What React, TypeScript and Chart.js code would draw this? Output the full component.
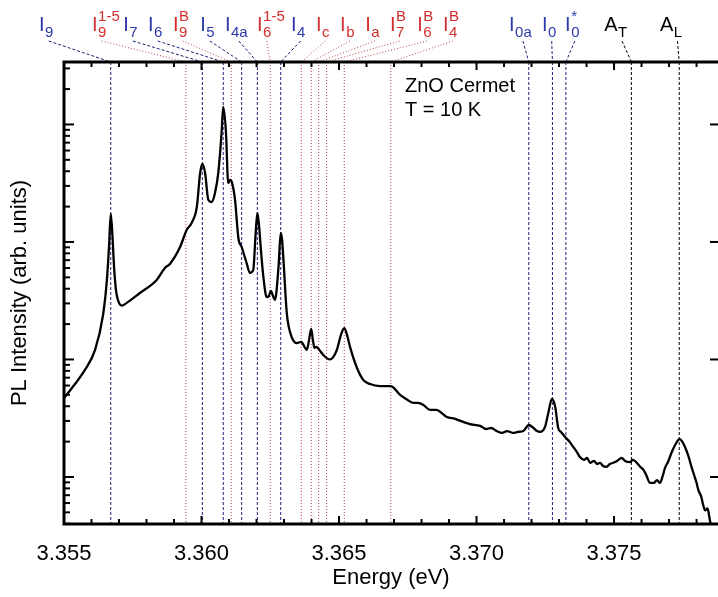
import React, { useEffect, useRef } from 'react';
import { Chart, registerables } from 'chart.js';

Chart.register(...registerables);

const FONT = "'Liberation Sans', Arial, Helvetica, sans-serif";

// Spectrum (photon energy in eV, PL intensity in arbitrary units)
const energy = [
  3.35500, 3.35540, 3.35576, 3.35613, 3.35642, 3.35656, 3.35664, 3.35670, 3.35676, 3.35682,
  3.35689, 3.35696, 3.35710, 3.35728, 3.35776, 3.35837, 3.35867, 3.35885, 3.35922, 3.35946,
  3.35964, 3.35983, 3.35995, 3.36003, 3.36013, 3.36025, 3.36037, 3.36049, 3.36061, 3.36073,
  3.36079, 3.36089, 3.36097, 3.36104, 3.36110, 3.36122, 3.36134, 3.36146, 3.36164, 3.36176,
  3.36188, 3.36197, 3.36203, 3.36209, 3.36216, 3.36225, 3.36237, 3.36245, 3.36252, 3.36260,
  3.36267, 3.36280, 3.36288, 3.36293, 3.36298, 3.36310, 3.36322, 3.36346, 3.36363, 3.36373,
  3.36383, 3.36391, 3.36399, 3.36405, 3.36411, 3.36418, 3.36426, 3.36443, 3.36467, 3.36492,
  3.36507, 3.36519, 3.36529, 3.36540, 3.36564, 3.36588, 3.36613, 3.36649, 3.36685, 3.36696,
  3.36722, 3.36744, 3.36770, 3.36787, 3.36807, 3.36831, 3.36853, 3.36892, 3.36922, 3.36952,
  3.36976, 3.37013, 3.37035, 3.37053, 3.37073, 3.37093, 3.37111, 3.37134, 3.37151, 3.37170,
  3.37190, 3.37207, 3.37220, 3.37231, 3.37249, 3.37261, 3.37274, 3.37286, 3.37297, 3.37307,
  3.37322, 3.37336, 3.37352, 3.37365, 3.37376, 3.37391, 3.37402, 3.37413, 3.37427, 3.37438,
  3.37449, 3.37460, 3.37473, 3.37485, 3.37497, 3.37511, 3.37528, 3.37540, 3.37558, 3.37569,
  3.37583, 3.37595, 3.37607, 3.37617, 3.37631, 3.37645, 3.37656, 3.37667, 3.37678, 3.37685,
  3.37696, 3.37710, 3.37722, 3.37738, 3.37747, 3.37758, 3.37769, 3.37783, 3.37791, 3.37799,
  3.37807, 3.37817, 3.37824, 3.37831, 3.37840, 3.37847, 3.37853, 3.37864,
];

const intensity = [
  47.0, 61.8, 81.5, 120.5, 239, 475, 942, 1730, 1148, 612,
  390, 321, 287, 303, 368, 475, 601, 650, 906, 1265,
  1452, 1986, 3864, 4613, 3864, 2275, 2188, 2612, 3864, 8472,
  14090, 8472, 3177, 3373, 3243, 2275, 1081, 906, 662, 545,
  578, 1194, 1766, 1396, 855, 503, 340, 347, 383, 347,
  321, 612, 1194, 1040, 703, 249, 171, 138, 141, 130,
  120.5, 146.6, 182, 146.6, 125.4, 128, 122.8, 109, 100, 120.5,
  162, 185, 162, 128, 86.3, 67, 61.8, 59.4, 59.4, 58.2,
  49.9, 46.1, 42.7, 42.7, 41.0, 37.2, 37.2, 32.4, 31.2, 29.4,
  28.2, 27.2, 25.6, 26.1, 24.6, 23.7, 24.6, 23.7, 24.2, 24.6,
  27.7, 26.1, 24.6, 24.2, 26.7, 35.1, 46.1, 39.5, 26.1, 24.2,
  21.9, 20.2, 18.0, 16.3, 14.8, 14.0, 14.5, 13.2, 13.7, 12.9,
  13.2, 12.4, 12.2, 12.9, 13.2, 13.7, 14.5, 13.7, 13.4, 14.0,
  13.2, 12.2, 11.5, 10.4, 8.9, 8.9, 9.4, 8.9, 10.4, 11.9,
  13.4, 16.3, 18.7, 21.0, 20.2, 18.0, 15.4, 11.9, 10.4, 9.1,
  7.7, 6.8, 5.8, 5.2, 5.4, 4.5, 3.8, 3.5,
];

// Axis
const xTickValues = [3.355, 3.36, 3.365, 3.37, 3.375];
const xMin = 3.355;
const xMax = 3.37878;
const yMin = 3.98;
const yMax = 34000;

// Line assignments (energy of each marked transition)
const markerEnergy = [
  3.35670, 3.35943, 3.36003, 3.36079, 3.36108, 3.36146, 3.36203, 3.36250, 3.36288, 3.36363,
  3.36399, 3.36426, 3.36455, 3.36519, 3.36688, 3.37190, 3.37276, 3.37325, 3.37563, 3.37737,
];
const markerLetter = ['I', 'I', 'I', 'I', 'I', 'I', 'I', 'I', 'I', 'I', 'I', 'I', 'I', 'I', 'I', 'I', 'I', 'I', 'A', 'A'];
const markerSub = ['9', '9', '7', '6', '9', '5', '4a', '6', '4', 'c', 'b', 'a', '7', '6', '4', '0a', '0', '0', 'T', 'L'];
const markerSup = ['', '1-5', '', '', 'B', '', '', '1-5', '', '', '', '', 'B', 'B', 'B', '', '', '*', '', ''];
const markerKind = [
  'blue', 'red', 'blue', 'blue', 'red', 'blue', 'blue', 'red', 'blue', 'red',
  'red', 'red', 'red', 'red', 'red', 'blue', 'blue', 'blue', 'black', 'black',
];
// Where each label text starts (in eV along the top axis)
const labelEnergy = [
  3.35409, 3.35602, 3.35715, 3.35805, 3.35896, 3.35995, 3.36085, 3.36202, 3.36325, 3.36416,
  3.36504, 3.36595, 3.36685, 3.36784, 3.36878, 3.37118, 3.37238, 3.37322, 3.37464, 3.37667,
];

const annotationLines = ['ZnO Cermet', 'T = 10 K'];
const annotationEnergy = 3.36740;

const STYLES: Record<string, { text: string; line: string; dash: number[] }> = {
  blue: { text: '#2b3aa8', line: '#1e1e7a', dash: [3, 2] },
  red: { text: '#d42c2c', line: '#b84444', dash: [1, 2] },
  black: { text: '#000000', line: '#000000', dash: [3, 2] },
};

const decorPlugin = {
  id: 'decor',
  beforeDatasetsDraw(chart: any) {
    const { ctx, chartArea: a } = chart;
    const x = chart.scales.x;
    ctx.save();
    ctx.lineWidth = 1;
    markerEnergy.forEach((e, i) => {
      const st = STYLES[markerKind[i]];
      const px = x.getPixelForValue(e);
      ctx.strokeStyle = st.line;
      ctx.setLineDash(st.dash);
      ctx.beginPath();
      ctx.moveTo(px, a.top);
      ctx.lineTo(px, a.bottom);
      ctx.stroke();
    });
    ctx.restore();
  },
  afterDatasetsDraw(chart: any) {
    const { ctx, chartArea: a } = chart;
    const x = chart.scales.x;
    const y = chart.scales.y;
    ctx.save();

    // connectors and labels above the frame
    markerEnergy.forEach((e, i) => {
      const st = STYLES[markerKind[i]];
      const px = x.getPixelForValue(e);
      const lx = x.getPixelForValue(labelEnergy[i]);
      ctx.font = `20px ${FONT}`;
      const wMain = ctx.measureText(markerLetter[i]).width;
      ctx.font = `15px ${FONT}`;
      const wSub = ctx.measureText(markerSub[i]).width;
      const sx = lx + wMain + wSub / 2;
      ctx.strokeStyle = st.line;
      ctx.setLineDash(st.dash);
      ctx.lineWidth = 1;
      ctx.beginPath();
      ctx.moveTo(sx, a.top - 21);
      ctx.lineTo(px, a.top);
      ctx.stroke();

      ctx.setLineDash([]);
      ctx.fillStyle = st.text;
      ctx.textAlign = 'left';
      ctx.textBaseline = 'alphabetic';
      ctx.font = `20px ${FONT}`;
      ctx.fillText(markerLetter[i], lx, a.top - 31);
      ctx.font = `15px ${FONT}`;
      ctx.fillText(markerSub[i], lx + wMain + 0.5, a.top - 25);
      if (markerSup[i]) ctx.fillText(markerSup[i], lx + wMain + 0.5, a.top - 41);
    });

    // ticks
    ctx.setLineDash([]);
    ctx.strokeStyle = '#000';
    ctx.lineWidth = 2;
    const seg = (x1: number, y1: number, x2: number, y2: number) => {
      ctx.beginPath();
      ctx.moveTo(x1, y1);
      ctx.lineTo(x2, y2);
      ctx.stroke();
    };
    for (let k = 0; k < 100; k++) {
      const v = xMin + k * 0.001;
      if (v > x.max + 1e-9) break;
      const px = x.getPixelForValue(v);
      const len = k % 5 === 0 ? 8 : 5;
      seg(px, a.bottom, px, a.bottom - len);
      seg(px, a.top, px, a.top + len);
    }
    for (let p = -1; p <= 6; p++) {
      for (let m = 1; m <= 9; m++) {
        const v = m * Math.pow(10, p);
        if (v < y.min || v > y.max) continue;
        const py = y.getPixelForValue(v);
        if (m === 1) {
          seg(a.left, py, a.left + 10, py);
          seg(a.right, py, a.right - 8, py);
        } else {
          seg(a.left, py, a.left + 6, py);
        }
      }
    }

    // frame (left, top, bottom)
    ctx.lineWidth = 3;
    ctx.beginPath();
    ctx.moveTo(a.right + 2, a.top);
    ctx.lineTo(a.left, a.top);
    ctx.lineTo(a.left, a.bottom);
    ctx.lineTo(a.right + 2, a.bottom);
    ctx.stroke();

    // annotation
    ctx.fillStyle = '#000';
    ctx.font = `20px ${FONT}`;
    ctx.textAlign = 'left';
    ctx.textBaseline = 'alphabetic';
    const ax = x.getPixelForValue(annotationEnergy);
    annotationLines.forEach((t, i) => ctx.fillText(t, ax, a.top + 30 + i * 24));

    ctx.restore();
  },
};

export default function App() {
  const ref = useRef<HTMLCanvasElement | null>(null);
  useEffect(() => {
    if (!ref.current) return;
    const chart = new Chart(ref.current, {
      type: 'line',
      data: {
        datasets: [
          {
            data: energy.map((e, i) => ({ x: e, y: intensity[i] })),
            borderColor: '#000',
            borderWidth: 2.3,
            pointRadius: 0,
            cubicInterpolationMode: 'monotone',
            fill: false,
          },
        ],
      },
      options: {
        animation: false,
        responsive: false,
        layout: { padding: { top: 62, left: 0, right: 0, bottom: 0 }, autoPadding: false },
        plugins: { legend: { display: false }, tooltip: { enabled: false } },
        scales: {
          x: {
            type: 'linear',
            min: xMin,
            max: xMax,
            afterBuildTicks: (s: any) => {
              s.ticks = xTickValues.map((v) => ({ value: v }));
            },
            afterFit: (s: any) => {
              s.height = 73;
            },
            grid: { display: false },
            border: { display: false },
            ticks: {
              color: '#000',
              font: { family: FONT, size: 22 },
              padding: 9,
              maxRotation: 0,
              autoSkip: false,
              callback: (v: any) => Number(v).toFixed(3),
            },
            title: {
              display: true,
              text: 'Energy (eV)',
              color: '#000',
              font: { family: FONT, size: 22 },
              padding: { top: 0, bottom: 6 },
            },
          },
          y: {
            type: 'logarithmic',
            min: yMin,
            max: yMax,
            afterFit: (s: any) => {
              s.width = 64;
            },
            grid: { display: false },
            border: { display: false },
            ticks: { display: false },
            title: {
              display: true,
              text: 'PL Intensity (arb. units)',
              color: '#000',
              font: { family: FONT, size: 22 },
              padding: { top: 7, bottom: 0 },
            },
          },
        },
      },
      plugins: [decorPlugin],
    } as any);
    return () => chart.destroy();
  }, []);
  return (
    <div style={{ position: 'absolute', left: 0, top: 0, width: 718, height: 597, background: '#fff' }}>
      <canvas ref={ref} width={718} height={597} style={{ display: 'block' }} />
    </div>
  );
}
